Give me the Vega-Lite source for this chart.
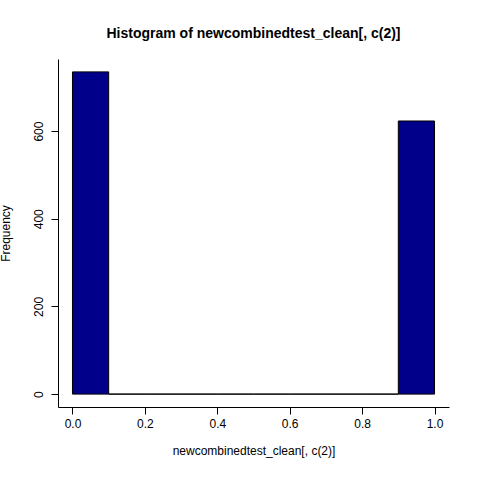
{
  "$schema": "https://vega.github.io/schema/vega-lite/v6.json",
  "width": 391,
  "height": 348,
  "autosize": "none",
  "padding": {"left": 58, "top": 59, "right": 31, "bottom": 73},
  "background": "white",
  "config": {"view": {"stroke": null}, "font": "Liberation Sans"},
  "title": {"text": "Histogram of newcombinedtest_clean[, c(2)]", "fontSize": 14, "fontWeight": "bold", "font": "Liberation Sans", "offset": 18, "color": "black"},
  "data": {"values": [
    {"start": 0.0, "end": 0.1, "count": 735},
    {"start": 0.1, "end": 0.2, "count": 0},
    {"start": 0.2, "end": 0.3, "count": 0},
    {"start": 0.3, "end": 0.4, "count": 0},
    {"start": 0.4, "end": 0.5, "count": 0},
    {"start": 0.5, "end": 0.6, "count": 0},
    {"start": 0.6, "end": 0.7, "count": 0},
    {"start": 0.7, "end": 0.8, "count": 0},
    {"start": 0.8, "end": 0.9, "count": 0},
    {"start": 0.9, "end": 1.0, "count": 623}
  ]},
  "mark": {"type": "rect", "fill": "#00008B", "stroke": "black", "strokeWidth": 1},
  "encoding": {
    "x": {"field": "start", "type": "quantitative",
      "scale": {"domain": [-0.04, 1.04], "nice": false, "zero": false},
      "axis": {"values": [0, 0.2, 0.4, 0.6, 0.8, 1.0], "format": ".1f", "grid": false, "title": "newcombinedtest_clean[, c(2)]",
        "titleFont": "Liberation Sans", "titleFontWeight": "normal", "titleFontSize": 12, "titlePadding": 16, "titleColor": "black",
        "labelFontSize": 12, "labelColor": "black", "tickSize": 7, "tickColor": "black", "domainColor": "black", "labelPadding": 4}},
    "x2": {"field": "end"},
    "y": {"field": "count", "type": "quantitative",
      "scale": {"domain": [-29.4, 764.4], "nice": false, "zero": false},
      "axis": {"values": [0, 200, 400, 600], "grid": false, "title": "Frequency", "labelAngle": -90, "labelAlign": "center", "labelBaseline": "bottom",
        "titleFont": "Liberation Sans", "titleFontWeight": "normal", "titleFontSize": 12, "titlePadding": 20, "titleColor": "black",
        "labelFontSize": 12, "labelColor": "black", "tickSize": 7, "tickColor": "black", "domainColor": "black", "labelPadding": 6}},
    "y2": {"datum": 0}
  }
}
